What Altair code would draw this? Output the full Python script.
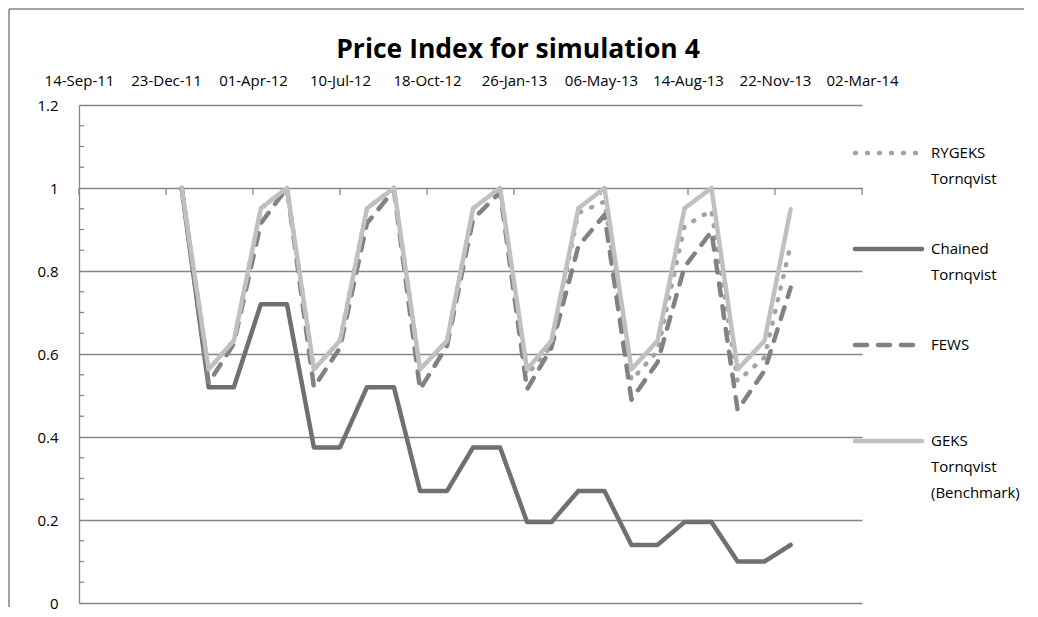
import altair as alt
import pandas as pd

# ---- data ----
months = ["2012-01-10", "2012-02-10", "2012-03-10", "2012-04-10", "2012-05-10", "2012-06-10",
          "2012-07-10", "2012-08-10", "2012-09-10", "2012-10-10", "2012-11-10", "2012-12-10",
          "2013-01-10", "2013-02-10", "2013-03-10", "2013-04-10", "2013-05-10", "2013-06-10",
          "2013-07-10", "2013-08-10", "2013-09-10", "2013-10-10", "2013-11-10", "2013-12-10"]

series_names = ["RYGEKS Tornqvist", "Chained Tornqvist", "FEWS", "GEKS Tornqvist (Benchmark)"]
legend_labels = ["RYGEKS\nTornqvist", "Chained\nTornqvist", "FEWS", "GEKS\nTornqvist\n(Benchmark)"]
title_text = ["Price Index for simulation 4"]

rygeks = [1.0, 0.563, 0.632, 0.951, 1.0, 0.563, 0.632, 0.951, 1.0, 0.563, 0.632, 0.951,
          1.0, 0.55, 0.62, 0.94, 0.967, 0.537, 0.607, 0.908, 0.946, 0.535, 0.592, 0.863]
chained = [1.0, 0.52, 0.52, 0.72, 0.72, 0.375, 0.375, 0.52, 0.52, 0.27, 0.27, 0.375,
           0.375, 0.195, 0.195, 0.27, 0.27, 0.14, 0.14, 0.195, 0.195, 0.10, 0.10, 0.14]
fews = [1.0, 0.53, 0.625, 0.915, 1.0, 0.52, 0.615, 0.915, 0.995, 0.515, 0.62, 0.925,
        0.99, 0.515, 0.615, 0.86, 0.935, 0.49, 0.58, 0.81, 0.895, 0.465, 0.56, 0.76]
geks = [1.0, 0.563, 0.632, 0.951, 1.0, 0.563, 0.632, 0.951, 1.0, 0.563, 0.632, 0.951,
        1.0, 0.563, 0.632, 0.951, 1.0, 0.563, 0.632, 0.951, 1.0, 0.563, 0.632, 0.949]

tick_dates = ["2011-09-14", "2011-12-23", "2012-04-01", "2012-07-10", "2012-10-18",
              "2013-01-26", "2013-05-06", "2013-08-14", "2013-11-22", "2014-03-02"]
y_major = [0, 0.2, 0.4, 0.6, 0.8, 1.0, 1.2]
y_minor = [0.05, 0.1, 0.15, 0.25, 0.3, 0.35, 0.45, 0.5, 0.55, 0.65, 0.7, 0.75,
           0.85, 0.9, 0.95, 1.05, 1.1, 1.15]

# ---- styles ----
colors = ["#A3A3A3", "#707070", "#828282", "#C0C0C0"]
dashes = [[1, 11], [1, 0], [12, 11], [1, 0]]
FONT = "Open Sans"
GRID = "#858585"
W, H = 783, 498

values_by_series = [rygeks, chained, fews, geks]
rows = []
for name, vals in zip(series_names, values_by_series):
    for d, v in zip(months, vals):
        rows.append({"date": d, "series": name, "value": v})
df = pd.DataFrame(rows)


def dt(s):
    y, m, d = (int(p) for p in s.split("-"))
    return alt.DateTime(year=y, month=m, date=d, utc=True)


x_enc = alt.X(
    "date:T",
    scale=alt.Scale(type="utc", domain=[dt(tick_dates[0]), dt(tick_dates[-1])]),
    axis=alt.Axis(orient="top", values=[dt(s) for s in tick_dates],
                  labelExpr="utcFormat(datum.value, '%d-%b-%y')",
                  ticks=False, domain=False, grid=False, labelPadding=17,
                  labelFlush=False, labelOverlap=False, labelFont=FONT,
                  labelFontSize=15, labelColor="#000000", title=None),
)
y_enc = alt.Y(
    "value:Q",
    scale=alt.Scale(domain=[0, 1.2], nice=False, zero=False),
    axis=alt.Axis(values=y_major, format="~g", grid=True, gridColor=GRID, gridWidth=1.3,
                  ticks=False, domain=True, domainColor=GRID, domainWidth=1.3,
                  labelPadding=21, labelFont=FONT, labelFontSize=15,
                  labelColor="#000000", title=None),
)
color_enc = alt.Color("series:N", scale=alt.Scale(domain=series_names, range=colors), legend=None)
dash_enc = alt.StrokeDash("series:N", scale=alt.Scale(domain=series_names, range=dashes), legend=None)

# chart-area frame (left and top edges, as in the Excel chart border)
frame_left = alt.Chart(pd.DataFrame({"k": [0]})).mark_rule(color=GRID, strokeWidth=1.5).encode(
    x=alt.value(-70), y=alt.value(-96), y2=alt.value(H + 4)
)
frame_top = alt.Chart(pd.DataFrame({"k": [0]})).mark_rule(color=GRID, strokeWidth=1.5).encode(
    y=alt.value(-96), x=alt.value(-70), x2=alt.value(W + 160 + 2)
)
title_mark = alt.Chart(pd.DataFrame({"t": title_text})).mark_text(
    font=FONT, fontSize=26.5, fontWeight="bold", align="center", baseline="alphabetic",
    color="#000000"
).encode(text="t:N", x=alt.value(439), y=alt.value(-47))

minor_df = pd.DataFrame({"value": y_minor})
minor_ticks = alt.Chart(minor_df).mark_rule(color=GRID, strokeWidth=1.3).encode(
    y=y_enc, x=alt.value(0), x2=alt.value(5)
)
xtick_df = pd.DataFrame({"date": tick_dates})
x_ticks = alt.Chart(xtick_df).mark_rule(color=GRID, strokeWidth=1.3).encode(
    x=x_enc, y=alt.datum(1.0), y2=alt.datum(0.983)
)

line_layers = []
for name in series_names:
    line_layers.append(
        alt.Chart(df).transform_filter(alt.datum.series == name)
        .mark_line(strokeWidth=4.5, strokeCap="round", strokeJoin="round")
        .encode(x=x_enc, y=y_enc, color=color_enc, strokeDash=dash_enc)
    )

main = alt.layer(frame_left, frame_top, title_mark, minor_ticks, x_ticks, *line_layers).properties(
    width=W, height=H
)

# ---- legend panel ----
leg_df = pd.DataFrame({"series": series_names, "label": legend_labels})
leg_y = alt.Y("series:N", scale=alt.Scale(type="point", domain=series_names, padding=0.5), axis=None)
leg_rules = alt.Chart(leg_df).mark_rule(strokeWidth=4.5, strokeCap="round").encode(
    y=leg_y, x=alt.value(-7), x2=alt.value(60), color=color_enc, strokeDash=dash_enc
)
leg_text = alt.Chart(leg_df).mark_text(
    align="left", baseline="middle", lineBreak="\n", lineHeight=26,
    font=FONT, fontSize=15, color="#000000"
).encode(y=leg_y, x=alt.value(69), text="label:N")
legend = alt.layer(leg_rules, leg_text).properties(width=160, height=384)

chart = alt.hconcat(main, legend, spacing=0, bounds="flush").properties(
    padding={"left": 0, "top": 0, "right": 0, "bottom": 0},
).configure_view(stroke=None)

chart.save("out.html", embed_options={"renderer": "svg", "actions": False})
